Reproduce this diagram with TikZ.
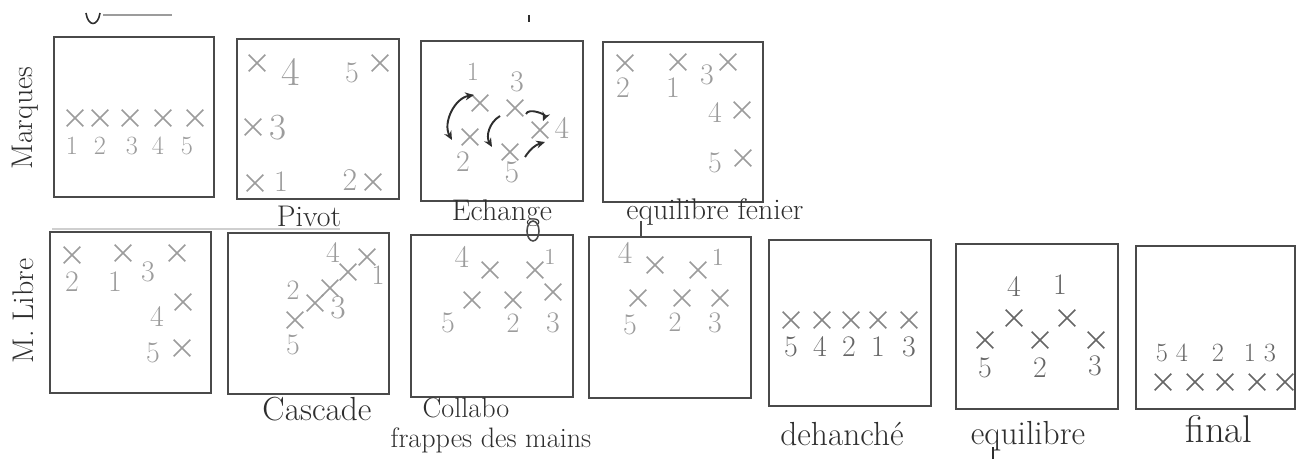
\documentclass[tikz,border=0pt]{standalone}
\usetikzlibrary{arrows.meta,shapes.misc}
\definecolor{ink}{HTML}{2E2E2E}
\definecolor{boxline}{HTML}{4A4A4A}
\definecolor{pencil}{HTML}{9C9C9C}
\definecolor{lead}{HTML}{666666}
\definecolor{faint}{HTML}{CFCFCF}
\tikzset{
  sq/.style={draw=boxline, line width=1pt},
  mk/.style={cross out, draw=#1, line width=0.9pt, minimum size=8.5pt, inner sep=0pt},
  mk/.default=pencil,
  num/.style={font=\fontsize{#1}{#1}\selectfont, text=pencil, inner sep=0pt},
  num/.default=17,
  cap/.style={font=\fontsize{#1}{#1}\selectfont, text=ink, inner sep=0pt},
  cap/.default=18,
  turn/.style={line width=1.1pt, draw=ink},
}

\begin{document}
\begin{tikzpicture}[x=0.02cm,y=-0.02cm,>={Stealth[length=5pt,width=4.5pt]}]
\useasboundingbox (0,0) rectangle (1298,459);

\node[cap=17, rotate=90] (hm) at (25,118) {Marques};
\node[cap=17, rotate=90] (hl) at (23,311) {M. Libre};

\foreach \a/\b/\c/\d in {54/37/214/197, 237/39/399/199, 421/41/583/201, 603/42/763/202,
  50/232/211/393, 228/233/389/394, 411/235/573/397, 589/237/751/398,
  769/240/931/406, 956/244/1118/409, 1136/246/1295/409}
  \draw[sq] (\a,\b) rectangle (\c,\d);

\foreach \n/\cx/\nx in {1/75/72,2/100/100,3/130/132,4/163/158,5/195/187}{
  \node[mk] (ax\n) at (\cx,118) {};
  \node[num=15] (an\n) at (\nx,146) {\n};
}
\foreach \n/\cx/\cy/\nx/\ny/\s in {1/255/183/281/182/17, 2/373/182/350/180/18, 3/253/127/278/128/21, 4/257/63/291/72/23, 5/380/63/352/73/17}{
  \node[mk] (bx\n) at (\cx,\cy) {};
  \node[num=\s] (bn\n) at (\nx,\ny) {\n};
}
\foreach \n/\cx/\cy/\nx/\ny/\s in {1/480/103/473/72/15, 2/470/137/463/162/17, 3/515/108/517/82/17, 4/540/130/562/128/18, 5/510/152/512/172/18}{
  \node[mk] (cx\n) at (\cx,\cy) {};
  \node[num=\s] (cn\n) at (\nx,\ny) {\n};
}
\coordinate (c1a) at (474,95);
\coordinate (c1b) at (452,140);
\coordinate (c2a) at (500,116);
\coordinate (c2b) at (492,147);
\coordinate (c3a) at (526,114);
\coordinate (c3b) at (543,121);
\coordinate (c4a) at (525,157);
\coordinate (c4b) at (545,142);
\draw[turn,<->] (c1a) to[bend right=55] (c1b);
\draw[turn,->] (c2a) to[bend right=45] (c2b);
\draw[turn,->] (c3a) to[bend left=90] (c3b);
\draw[turn,->] (c4a) to[bend left=20] (c4b);
\foreach \n/\cx/\cy/\nx/\ny in {1/678/62/673/88, 2/625/63/623/88, 3/728/62/707/75, 4/742/110/715/113, 5/743/158/715/163}{
  \node[mk] (dx\n) at (\cx,\cy) {};
  \node[num] (dn\n) at (\nx,\ny) {\n};
}

\node[cap=17] (pivot) at (309,216) {Pivot};
\node[cap=17] (echange) at (502,213) {Echange};
\node[cap=17] (fenier) at (715,212) {equilibre fenier};

\foreach \n/\cx/\cy/\nx/\ny in {1/123/253/115/282, 2/72/255/72/282, 3/177/253/148/272, 4/183/302/157/317, 5/182/348/153/353}{
  \node[mk] (ex\n) at (\cx,\cy) {};
  \node[num] (en\n) at (\nx,\ny) {\n};
}
\foreach \n/\cx/\cy/\nx/\ny/\s in {1/367/257/378/275/16, 2/330/288/293/290/16, 3/315/303/338/308/19, 4/348/272/333/253/17, 5/295/320/293/345/17}{
  \node[mk] (fx\n) at (\cx,\cy) {};
  \node[num=\s] (fn\n) at (\nx,\ny) {\n};
}
\foreach \n/\cx/\cy/\nx/\ny/\s in {1/535/270/550/257/13, 2/513/300/513/323/16, 3/553/292/553/323/17, 4/490/270/462/257/18, 5/472/300/448/323/17}{
  \node[mk] (gx\n) at (\cx,\cy) {};
  \node[num=\s] (gn\n) at (\nx,\ny) {\n};
}
\foreach \n/\cx/\cy/\nx/\ny/\s in {1/698/270/718/257/14, 2/682/298/675/322/16, 3/720/298/715/323/17, 4/655/265/625/253/18, 5/638/298/630/325/17}{
  \node[mk] (hx\n) at (\cx,\cy) {};
  \node[num=\s] (hn\n) at (\nx,\ny) {\n};
}
\foreach \n/\cx/\nx in {5/791/791, 4/822/820, 2/851/849, 1/878/878, 3/909/909}{
  \node[mk=lead!80] (ix\n) at (\cx,320) {};
  \node[num, text=lead] (in\n) at (\nx,347) {\n};
}
\foreach \n/\cx/\cy/\nx/\ny in {1/1067/318/1060/285, 2/1040/340/1040/368, 3/1096/340/1095/366, 4/1014/318/1014/287, 5/985/340/985/368}{
  \node[mk=lead] (jx\n) at (\cx,\cy) {};
  \node[num, text=lead] (jn\n) at (\nx,\ny) {\n};
}
\foreach \n/\cx/\nx in {5/1163/1162, 4/1195/1182, 2/1225/1218, 1/1257/1250, 3/1285/1270}{
  \node[mk=lead] (kx\n) at (\cx,382) {};
  \node[num=15, text=lead] (kn\n) at (\nx,353) {\n};
}

\node[cap=19] (cascade) at (317,409) {Cascade};
\node[cap=16] (collabo) at (466,408) {Collabo};
\node[cap=16] (frappes) at (491,440) {frappes des mains};
\node[cap=19] (dehanche) at (842,434) {dehanché};
\node[cap=19] (equil) at (1028,436) {equilibre};
\node[cap=22] (final) at (1219,429) {final};

\draw[ink, line width=0.9pt] (86,13) .. controls (88,27) and (98,27) .. (100,13);
\draw[pencil, line width=0.9pt] (103,15) -- (172,15);
\draw[ink, line width=1.2pt] (529,15) -- (529,22);
\draw[boxline, line width=0.9pt] (533,231) ellipse [x radius=0.12cm, y radius=0.2cm];
\draw[boxline, line width=0.9pt] (641,221) -- (641,237);
\draw[ink, line width=0.9pt] (993,447) -- (993,459);
\draw[faint, line width=0.8pt] (52,229) -- (340,229);
\end{tikzpicture}
\end{document}
